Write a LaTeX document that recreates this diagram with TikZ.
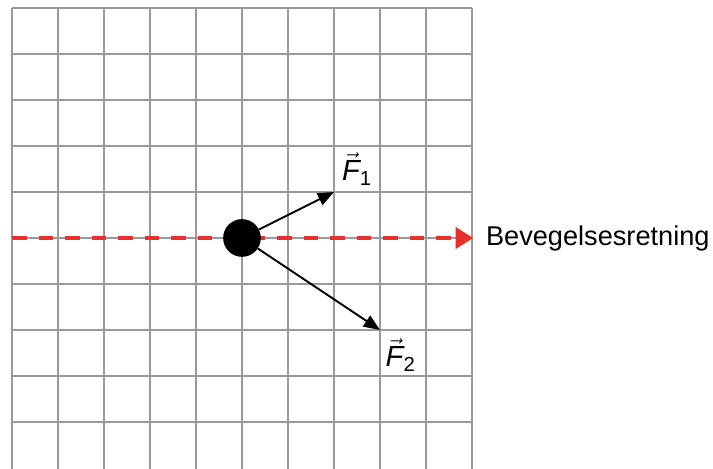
\documentclass[tikz,border=0pt]{standalone}
\usepackage{fontspec}
\setmainfont{Liberation Sans}
\usepackage{amsmath}
\usepackage{tikz}
\usetikzlibrary{arrows.meta, positioning}
\definecolor{gridgray}{HTML}{9A9A9A}
\definecolor{motionred}{HTML}{E8302E}
\tikzset{
  gridline/.style={gridgray, line width=1.2pt},
  forcearrow/.style={black, line width=1.2pt, -{Triangle[length=10pt, width=8pt]}},
  dirlabel/.style={font=\fontsize{16.8}{19}\selectfont, inner sep=0pt},
  forcelabel/.style={font=\fontsize{18}{20}\selectfont, inner sep=0pt},
}

\begin{document}
\begin{tikzpicture}
    \useasboundingbox (-0.261,-0.022) rectangle (15.24,10.174);
    % Grid
    \foreach \i in {0,...,10} {
      \draw[gridline] (\i,-0.022) -- (\i,10);
    }
    \foreach \i in {1,...,10} {
      \draw[gridline] (0,\i) -- (10,\i);
    }
    % Direction of motion
    \coordinate (start) at (0,5);
    \coordinate (end) at (10.03,5);
    \draw[motionred, line width=2.5pt, dash pattern=on 9pt off 7.4pt,
          -{Triangle[length=11pt, width=13pt]}] (start) -- (end);
    \node[dirlabel, anchor=west] (dir) at (10.3,5) {Bevegelsesretning};
    % Body
    \node[circle, fill=black, minimum size=0.82cm, inner sep=0pt] (ball) at (5,5) {};
    % Forces
    \coordinate (f1tip) at (7,6);
    \coordinate (f2tip) at (8,3);
    \draw[forcearrow] (ball) -- (f1tip);
    \draw[forcearrow] (ball) -- (f2tip);
    \node[forcelabel] (f1) at (7.5,6.5) {$\vec{\text{\itshape F}}_{\text{1}}$};
    \node[forcelabel] (f2) at (8.45,2.45) {$\vec{\text{\itshape F}}_{\text{2}}$};
\end{tikzpicture}
\end{document}
